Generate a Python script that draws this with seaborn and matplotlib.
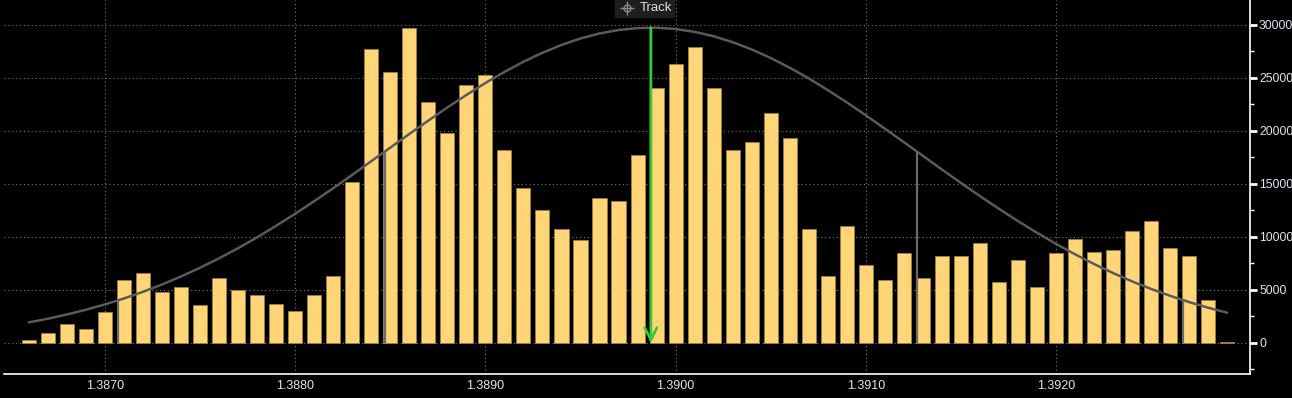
import matplotlib.pyplot as plt
import matplotlib.patches as mpatches
import seaborn as sns
import numpy as np

# price levels (one bar per 0.0001)
prices = [
    1.3866, 1.3867, 1.3868, 1.3869, 1.3870, 1.3871, 1.3872, 1.3873,
    1.3874, 1.3875, 1.3876, 1.3877, 1.3878, 1.3879, 1.3880, 1.3881,
    1.3882, 1.3883, 1.3884, 1.3885, 1.3886, 1.3887, 1.3888, 1.3889,
    1.3890, 1.3891, 1.3892, 1.3893, 1.3894, 1.3895, 1.3896, 1.3897,
    1.3898, 1.3899, 1.3900, 1.3901, 1.3902, 1.3903, 1.3904, 1.3905,
    1.3906, 1.3907, 1.3908, 1.3909, 1.3910, 1.3911, 1.3912, 1.3913,
    1.3914, 1.3915, 1.3916, 1.3917, 1.3918, 1.3919, 1.3920, 1.3921,
    1.3922, 1.3923, 1.3924, 1.3925, 1.3926, 1.3927, 1.3928, 1.3929,
]

# volume at each price
volumes = [
    300, 900, 1800, 1350, 2950, 5950, 6600, 4850,
    5300, 3600, 6150, 5000, 4550, 3700, 3000, 4550,
    6300, 15200, 27700, 25550, 29750, 22750, 19800, 24350,
    25300, 18250, 14600, 12500, 10750, 9700, 13700, 13400,
    17750, 24100, 26350, 27950, 24100, 18200, 19000, 21700,
    19350, 10800, 6300, 11000, 7350, 5950, 8500, 6150,
    8200, 8250, 9400, 5750, 7850, 5250, 8500, 9850,
    8600, 8750, 10550, 11500, 8950, 8250, 4100, 100,
]

# grey fitted curve, read at each price level
curve = [
    1950, 2290, 2690, 3140, 3640, 4200, 4830, 5520,
    6280, 7100, 7990, 8950, 9970, 11060, 12190, 13380,
    14600, 15860, 17150, 18430, 19720, 20980, 22220, 23400,
    24530, 25570, 26530, 27380, 28120, 28730, 29200, 29530,
    29710, 29740, 29620, 29350, 28940, 28380, 27690, 26890,
    25970, 24960, 23860, 22700, 21480, 20220, 18950, 17660,
    16370, 15100, 13860, 12660, 11500, 10400, 9350, 8370,
    7450, 6600, 5810, 5100, 4450, 3860, 3330, 2860,
]

# vertical markers (mean -2sd, -1sd, +1sd, +2sd) and the arrow at the mean
band_x = [1.38707, 1.38847, 1.39127, 1.39267]
band_top = [4030, 18040, 18040, 4030]
mean_x = 1.38987
mean_top = 29750

x_ticks = [1.3870, 1.3880, 1.3890, 1.3900, 1.3910, 1.3920]
y_ticks = [0, 5000, 10000, 15000, 20000, 25000, 30000]

W, H = 1292, 398
TXT = '#dde6ef'


def draw_chart():
    fig = plt.figure(figsize=(W / 100, H / 100), dpi=100, facecolor='black')
    ax = fig.add_axes([4 / W, 24 / H, 1246 / W, 374 / H])
    ax.set_facecolor('black')

    sns.barplot(x=prices, y=volumes, native_scale=True, orient='x',
                color='#ffd577', saturation=1, width=0.74, errorbar=None,
                edgecolor='#9c8040', linewidth=0.6, ax=ax, zorder=3)

    sns.lineplot(x=prices, y=curve, color='#5a5a5a', lw=1.8, ax=ax, zorder=4)
    ax.vlines(band_x, 0, band_top, color='#6a6a6a', lw=1.6, zorder=4)

    ax.annotate('', xy=(mean_x, 0), xytext=(mean_x, mean_top),
                arrowprops=dict(arrowstyle='->', color='#33cc33', lw=2,
                                mutation_scale=22, shrinkA=0, shrinkB=0),
                zorder=5)

    ax.set_xlim(1.386469, 1.393020)
    ax.set_ylim(-2925, 32358)
    ax.set_xticks(x_ticks)
    ax.set_xticklabels([f'{v:.4f}' for v in x_ticks])
    ax.set_yticks(y_ticks)
    ax.set_yticklabels([str(v) for v in y_ticks])
    ax.set_yticks([-2500] + list(np.array(y_ticks[:-1]) + 2500), minor=True)

    ax.yaxis.tick_right()
    ax.tick_params(axis='y', which='major', colors='white', labelcolor=TXT,
                   length=5, width=2, pad=1.5, labelsize=8.8)
    ax.tick_params(axis='y', which='minor', colors='white', length=3, width=1)
    ax.tick_params(axis='x', which='major', length=0, pad=4,
                   labelcolor=TXT, labelsize=9)

    ax.grid(True, which='major', color='#7a7a7a', linestyle=(0, (1, 2.5)), lw=0.8)
    ax.set_axisbelow(True)

    for side in ['top', 'left']:
        ax.spines[side].set_visible(False)
    ax.spines['right'].set_color('white')
    ax.spines['bottom'].set_color('white')
    ax.spines['right'].set_linewidth(1.2)
    ax.spines['bottom'].set_linewidth(1.2)
    ax.set_xlabel('')
    ax.set_ylabel('')

    # "Track" tag at the top
    fig.patches.append(mpatches.Rectangle((615 / W, 1 - 17 / H), 59 / W, 17 / H,
                                          transform=fig.transFigure,
                                          color='#1e1e1e', zorder=6))
    fig.text(640 / W, 1 - 8 / H, 'Track', color='#e0e0e0', fontsize=9.5,
             ha='left', va='center', zorder=7)
    fig.lines.append(plt.Line2D([627 / W], [1 - 8 / H], marker='+', ms=10,
                                mew=1, color='#8a8a8a', transform=fig.transFigure,
                                zorder=7))
    fig.lines.append(plt.Line2D([627 / W], [1 - 8 / H], marker='o', ms=5,
                                mew=1, mfc='none', color='#8a8a8a',
                                transform=fig.transFigure, zorder=7))

    fig.savefig('out.png', dpi=100, facecolor='black')


if __name__ == "__main__":
    sns.set_theme(style="dark")
    plt.rcParams['font.family'] = ['Liberation Sans', 'DejaVu Sans']
    draw_chart()
